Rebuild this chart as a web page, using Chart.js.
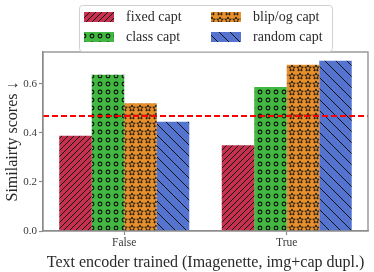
<!DOCTYPE html>
<html>
<head>
<meta charset="utf-8">
<script src="https://cdn.jsdelivr.net/npm/chart.js@4.4.1/dist/chart.umd.min.js"></script>
<style>
    html, body { margin: 0; padding: 0; background: #fff; }
    #wrap { width: 374px; height: 272px; position: relative; }
</style>
</head>
<body>
<div id="wrap"><canvas id="simChart"></canvas></div>
<script>
const categories = ["False", "True"];
const seriesNames = ["fixed capt", "class capt", "blip/og capt", "random capt"];
const fixedCapt = [0.388, 0.350];
const classCapt = [0.637, 0.587];
const blipCapt = [0.521, 0.678];
const randomCapt = [0.446, 0.694];
const baseline = 0.469;
const yTicks = [0.0, 0.2, 0.4, 0.6];

const FONT = "'Liberation Serif', 'Times New Roman', serif";
const SPINE = "#8c8c8c";

function makeTile(size, bg, drawFn) {
    const c = document.createElement("canvas");
    c.width = size;
    c.height = size;
    const ctx = c.getContext("2d");
    ctx.fillStyle = bg;
    ctx.fillRect(0, 0, size, size);
    ctx.strokeStyle = "#111";
    ctx.lineWidth = 1;
    drawFn(ctx, size);
    return document.createElement("canvas").getContext("2d").createPattern(c, "repeat");
}

function hatchForward(ctx, s) {
    ctx.beginPath();
    ctx.moveTo(-1, s + 1);
    ctx.lineTo(s + 1, -1);
    ctx.moveTo(-1, 1);
    ctx.lineTo(1, -1);
    ctx.moveTo(s - 1, s + 1);
    ctx.lineTo(s + 1, s - 1);
    ctx.stroke();
}

function hatchBack(ctx, s) {
    ctx.beginPath();
    ctx.moveTo(-1, -1);
    ctx.lineTo(s + 1, s + 1);
    ctx.moveTo(s - 1, -1);
    ctx.lineTo(s + 1, 1);
    ctx.moveTo(-1, s - 1);
    ctx.lineTo(1, s + 1);
    ctx.stroke();
}

function circles(ctx, s) {
    ctx.lineWidth = 1.1;
    ctx.beginPath();
    ctx.arc(s / 2, s / 2, 1.9, 0, Math.PI * 2);
    ctx.stroke();
}

function stars(ctx, s) {
    const cx = s / 2, cy = s / 2 + 0.3;
    const ro = 3.4, ri = 1.5;
    ctx.lineWidth = 0.9;
    ctx.beginPath();
    for (let i = 0; i < 10; i++) {
        const r = i % 2 === 0 ? ro : ri;
        const a = -Math.PI / 2 + i * Math.PI / 5;
        const x = cx + r * Math.cos(a);
        const y = cy + r * Math.sin(a);
        i === 0 ? ctx.moveTo(x, y) : ctx.lineTo(x, y);
    }
    ctx.closePath();
    ctx.stroke();
}

const fills = [
    makeTile(6, "#c7304f", hatchForward),
    makeTile(8, "#42b842", circles),
    makeTile(8, "#e8902b", stars),
    makeTile(11, "#5574cf", hatchBack),
];

const legendPlugin = {
    id: "boxLegend",
    afterDraw(chart) {
        const ctx = chart.ctx;
        ctx.save();
        // legend frame
        ctx.strokeStyle = "#d0d0d0";
        ctx.lineWidth = 1;
        ctx.beginPath();
        ctx.roundRect(79.5, 5.5, 253, 46, 3);
        ctx.fillStyle = "rgba(255,255,255,0.8)";
        ctx.fill();
        ctx.stroke();
        const spots = [[84, 12], [84, 32], [211, 12], [211, 32]];
        ctx.font = "14px " + FONT;
        ctx.textBaseline = "middle";
        chart.data.datasets.forEach((ds, i) => {
            const [x, y] = spots[i];
            ctx.fillStyle = ds.backgroundColor;
            ctx.fillRect(x, y, 30, 10);
            ctx.fillStyle = "#2a2a2a";
            ctx.fillText(ds.label, x + 42, y + 5);
        });
        ctx.restore();
    },
};

const framePlugin = {
    id: "frameAndLine",
    afterDatasetsDraw(chart) {
        const ctx = chart.ctx;
        const area = chart.chartArea;
        const y = chart.scales.y.getPixelForValue(baseline);
        ctx.save();
        ctx.strokeStyle = "#ff0000";
        ctx.lineWidth = 2;
        ctx.setLineDash([6, 3]);
        ctx.beginPath();
        ctx.moveTo(area.left, y);
        ctx.lineTo(area.right, y);
        ctx.stroke();
        ctx.setLineDash([]);
        ctx.strokeStyle = SPINE;
        ctx.lineWidth = 1.3;
        ctx.strokeRect(area.left, area.top, area.right - area.left, area.bottom - area.top);
        ctx.restore();
    },
};

const seriesValues = [fixedCapt, classCapt, blipCapt, randomCapt];

new Chart(document.getElementById("simChart"), {
    type: "bar",
    data: {
        labels: categories,
        datasets: seriesNames.map((name, i) => ({
            label: name,
            data: seriesValues[i],
            backgroundColor: fills[i],
            borderWidth: 0,
            barPercentage: 1.0,
            categoryPercentage: 0.8,
        })),
    },
    options: {
        responsive: true,
        maintainAspectRatio: false,
        animation: false,
        events: [],
        layout: { padding: { top: 52, right: 6, left: 0, bottom: 0 } },
        plugins: {
            legend: { display: false },
            tooltip: { enabled: false },
        },
        scales: {
            x: {
                grid: { display: true, drawOnChartArea: false, offset: false, color: SPINE, tickLength: 4, tickWidth: 1.2 },
                border: { color: SPINE, width: 1.3 },
                ticks: { color: "#3a3a3a", font: { family: FONT, size: 11.5 }, padding: 1 },
                title: {
                    display: true,
                    text: "Text encoder trained (Imagenette, img+cap dupl.)",
                    color: "#2a2a2a",
                    font: { family: FONT, size: 16 },
                    padding: { top: 0, bottom: 0 },
                },
                afterFit(scale) { scale.height = 41; },
            },
            y: {
                min: 0,
                max: 0.73,
                grid: { display: true, drawOnChartArea: false, color: SPINE, tickLength: 4, tickWidth: 1.2 },
                border: { color: SPINE, width: 1.3 },
                afterBuildTicks(scale) {
                    scale.ticks = yTicks.map((v) => ({ value: v }));
                },
                ticks: {
                    color: "#3a3a3a",
                    font: { family: FONT, size: 11 },
                    padding: 2,
                    callback: (v) => Number(v).toFixed(1),
                },
                title: {
                    display: true,
                    text: "Similairty scores \u2193",
                    color: "#2a2a2a",
                    font: { family: FONT, size: 16 },
                    padding: { top: 3, bottom: 0 },
                },
                afterFit(scale) { scale.width = 43; },
            },
        },
    },
    plugins: [framePlugin, legendPlugin],
});
</script>
</body>
</html>
